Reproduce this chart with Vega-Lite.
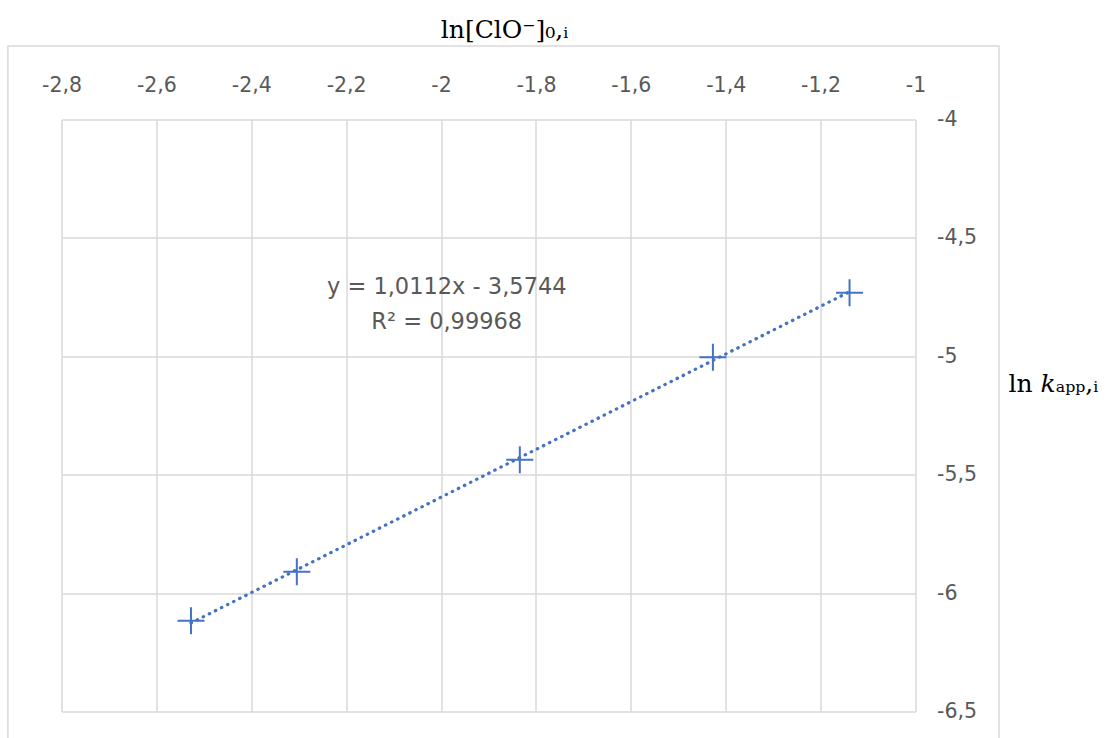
{
  "$schema": "https://vega.github.io/schema/vega-lite/v6.json",
  "width": 854,
  "height": 592,
  "autosize": "none",
  "padding": {"left": 61.5, "top": 119.5, "right": 194.5, "bottom": 26.5},
  "background": "white",
  "config": {
    "view": {"stroke": null},
    "axis": {
      "labelFont": "DejaVu Sans",
      "labelFontSize": 20.5,
      "labelColor": "#595959",
      "gridColor": "#d9d9d9",
      "gridWidth": 1.5,
      "domain": false,
      "ticks": false,
      "tickSize": 0
    }
  },
  "data": {
    "values": [
      {"lnClO": -2.527, "lnk": -6.117},
      {"lnClO": -2.304, "lnk": -5.910},
      {"lnClO": -1.834, "lnk": -5.437},
      {"lnClO": -1.427, "lnk": -5.004},
      {"lnClO": -1.139, "lnk": -4.732}
    ]
  },
  "layer": [
    {
      "mark": {"type": "point", "shape": "M-1,0L1,0M0,-1L0,1", "size": 729, "filled": false, "stroke": "#4472c4", "strokeWidth": 2, "opacity": 1},
      "encoding": {
        "x": {
          "field": "lnClO", "type": "quantitative",
          "scale": {"domain": [-2.8, -1], "nice": false, "zero": false},
          "axis": {
            "orient": "top",
            "values": [-2.8, -2.6, -2.4, -2.2, -2, -1.8, -1.6, -1.4, -1.2, -1],
            "labelExpr": "replace(toString(datum.value), '.', ',')",
            "labelPadding": 24,
            "labelFlush": false,
            "title": "ln[ClO⁻]₀,ᵢ",
            "titleFont": "DejaVu Serif",
            "titleFontSize": 25,
            "titleFontWeight": "normal",
            "titleColor": "#000000",
            "titleAlign": "center",
            "titleBaseline": "alphabetic",
            "titleX": 442.5,
            "titleY": -82.5
          }
        },
        "y": {
          "field": "lnk", "type": "quantitative",
          "scale": {"domain": [-6.5, -4], "nice": false, "zero": false},
          "axis": {
            "orient": "right",
            "values": [-6.5, -6, -5.5, -5, -4.5, -4],
            "labelExpr": "replace(toString(datum.value), '.', ',')",
            "labelPadding": 21,
            "labelFlush": false,
            "labelAlign": "left",
            "title": "ln 𝑘ₐₚₚ,ᵢ",
            "titleFont": "DejaVu Serif",
            "titleFontSize": 25,
            "titleFontWeight": "normal",
            "titleColor": "#000000",
            "titleAngle": 0,
            "titleAlign": "left",
            "titleBaseline": "alphabetic",
            "titleX": 92.5,
            "titleY": 272
          }
        }
      }
    },
    {
      "transform": [{"regression": "lnk", "on": "lnClO"}],
      "mark": {"type": "line", "stroke": "#4472c4", "strokeWidth": 3.2, "strokeDash": [0.5, 6.3], "strokeCap": "round"},
      "encoding": {
        "x": {"field": "lnClO", "type": "quantitative", "scale": {"domain": [-2.8, -1], "nice": false, "zero": false}},
        "y": {"field": "lnk", "type": "quantitative", "scale": {"domain": [-6.5, -4], "nice": false, "zero": false}}
      }
    },
    {
      "data": {"values": [{}]},
      "mark": {"type": "text", "font": "DejaVu Sans", "fontSize": 22.5, "fill": "#595959", "align": "center", "baseline": "alphabetic", "lineHeight": 35},
      "encoding": {
        "text": {"value": ["y = 1,0112x - 3,5744", "R² = 0,99968"]},
        "x": {"datum": -1.988, "type": "quantitative", "scale": {"domain": [-2.8, -1], "nice": false, "zero": false}},
        "y": {"datum": -4.735, "type": "quantitative", "scale": {"domain": [-6.5, -4], "nice": false, "zero": false}}
      }
    },
    {
      "data": {"values": [{}]},
      "mark": {"type": "rect", "fill": null, "stroke": "#d9d9d9", "strokeWidth": 1.5, "clip": false},
      "encoding": {
        "x": {"datum": -2.913, "type": "quantitative", "scale": {"domain": [-2.8, -1], "nice": false, "zero": false}},
        "x2": {"datum": -0.824},
        "y": {"datum": -3.69, "type": "quantitative", "scale": {"domain": [-6.5, -4], "nice": false, "zero": false}},
        "y2": {"datum": -6.64}
      }
    }
  ]
}
